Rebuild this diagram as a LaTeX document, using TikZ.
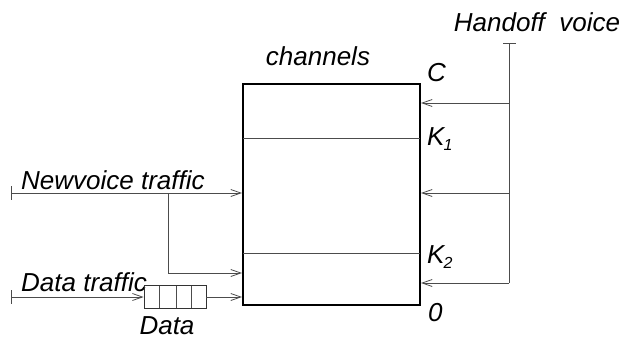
\documentclass[tikz,border=0pt]{standalone}
\usepackage{fontspec}
\setmainfont{Liberation Sans}
\usetikzlibrary{arrows.meta}
\begin{document}
\begin{tikzpicture}[x=1pt,y=-1pt,
  lbl/.style={font=\fontsize{26}{28}\selectfont\itshape, inner sep=0pt},
  wire/.style={draw=black!70, line width=0.8pt},
  arr/.style={wire, -{Straight Barb[length=10pt,width=7pt]}},
  boxline/.style={draw=black, line width=1.1pt}]
\useasboundingbox (0,0) rectangle (634,340);
% channel box
\draw[boxline] (243,84) rectangle (420,305);
\draw[wire] (243,138) -- (420,138);
\draw[wire] (243,253) -- (420,253);
% labels
\node[lbl] (chan) at (318,56) {channels};
\node[lbl, anchor=west] (lc) at (427,73) {C};
\node[lbl, anchor=west] (lk1) at (427,139) {K\kern-1pt\raisebox{-5pt}{\fontsize{16}{18}\selectfont 1}};
\node[lbl, anchor=west] (lk2) at (427,257) {K\kern-1pt\raisebox{-5pt}{\fontsize{16}{18}\selectfont 2}};
\node[lbl, anchor=west] (l0) at (428,313) {0};
\node[lbl] (hv) at (537,22) {Handoff~~voice};
\node[lbl, anchor=west] (nv) at (21,180) {Newvoice traffic};
\node[lbl, anchor=west] (dt) at (21,282) {Data traffic};
\node[lbl, anchor=base] (dl) at (167,334) {Data};
% handoff
\coordinate (htop) at (509,43);
\coordinate (h1) at (509,103);
\coordinate (h2) at (509,193);
\coordinate (h3) at (509,283);
\draw[wire] (503,43) -- (516,43);
\draw[wire] (htop) -- (h3);
\coordinate (r1) at (421,103);
\coordinate (r2) at (421,193);
\coordinate (r3) at (421,283);
\draw[arr] (h1) -- (r1);
\draw[arr] (h2) -- (r2);
\draw[arr] (h3) -- (r3);
% new voice
\coordinate (nvs) at (11,193);
\coordinate (nve) at (242,193);
\coordinate (nvb) at (168,193);
\coordinate (nvc) at (168,273);
\coordinate (nvd) at (242,273);
\draw[wire] (11,186) -- (11,200);
\draw[arr] (nvs) -- (nve);
\draw[wire] (nvb) -- (nvc);
\draw[arr] (nvc) -- (nvd);
% data queue
\node[draw=black!80, line width=0.8pt, minimum width=62pt, minimum height=23pt, inner sep=0pt] (q) at (175,297) {};
\draw[wire] (159,286) -- (159,308);
\draw[wire] (176,286) -- (176,308);
\draw[wire] (191,286) -- (191,308);
\coordinate (ds) at (11,297);
\coordinate (de) at (242,297);
\draw[wire] (11,290) -- (11,304);
\draw[arr] (ds) -- (q.west);
\draw[arr] (q.east) -- (de);
\end{tikzpicture}
\end{document}
